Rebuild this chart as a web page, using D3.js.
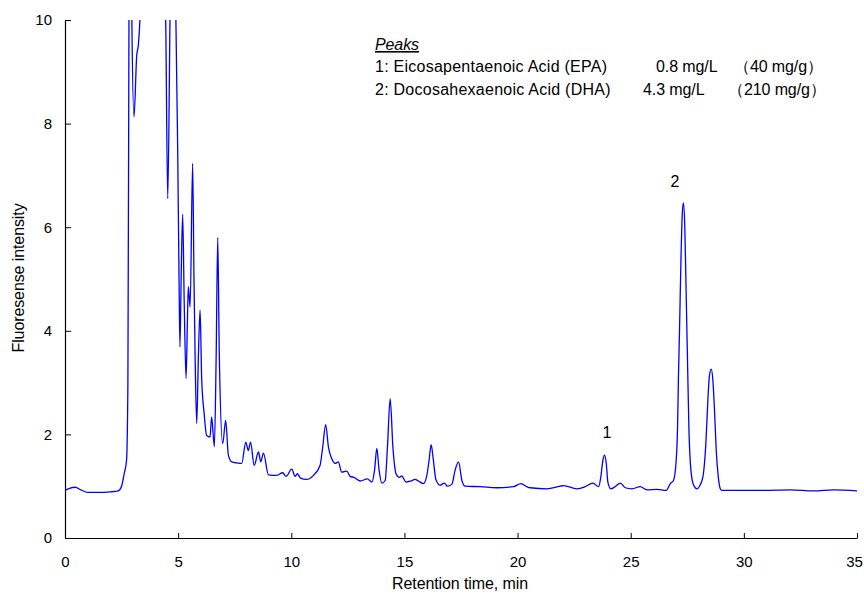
<!DOCTYPE html>
<html>
<head>
<meta charset="utf-8">
<script src="https://cdn.jsdelivr.net/npm/d3@7"></script>
<style>
  body { margin: 0; background: #fff; }
  text { font-family: Arial, "Liberation Sans", sans-serif; fill: #000; }
</style>
</head>
<body>
<div id="chart"></div>
<script>
var width = 864,
    height = 597,
    margin = {top: 20, right: 7, bottom: 59, left: 65};

// chromatogram trace (min, intensity)
var retention = [0.00, 0.20, 0.45, 0.70, 1.00, 1.50, 2.00, 2.35, 2.50, 2.62, 2.72, 2.78, 2.83, 2.90, 2.95,
    3.05, 3.17, 3.24, 3.32, 3.50, 4.00, 4.40, 4.45, 4.54, 4.64, 4.75, 4.88, 4.98, 5.04, 5.08,
    5.14, 5.20, 5.27, 5.35, 5.41, 5.45, 5.53, 5.64, 5.70, 5.75, 5.82, 5.90, 5.97, 6.04, 6.15,
    6.26, 6.41, 6.48, 6.60, 6.68, 6.75, 6.82, 6.97, 7.10, 7.22, 7.37, 7.59, 7.81, 7.99, 8.10,
    8.20, 8.36, 8.55, 8.65, 8.77, 8.99, 9.36, 9.62, 9.77, 10.02, 10.17, 10.27, 10.42, 10.68, 10.98,
    11.27, 11.39, 11.52, 11.64, 11.79, 11.94, 12.08, 12.23, 12.45, 12.60, 12.77, 13.04, 13.36, 13.56, 13.68,
    13.78, 13.88, 14.00, 14.15, 14.25, 14.37, 14.49, 14.63, 14.78, 14.88, 15.07, 15.28, 15.47, 15.62, 15.84,
    15.99, 16.09, 16.18, 16.28, 16.39, 16.58, 16.76, 16.90, 17.10, 17.24, 17.39, 17.54, 17.68, 18.35, 19.08,
    19.82, 20.15, 20.41, 20.56, 21.30, 21.88, 22.03, 22.62, 22.99, 23.33, 23.58, 23.68, 23.77, 23.84, 23.92,
    23.99, 24.12, 24.31, 24.54, 24.76, 25.05, 25.42, 25.72, 26.16, 26.57, 26.75, 26.89, 27.01, 27.07, 27.11,
    27.16, 27.22, 27.28, 27.33, 27.39, 27.45, 27.51, 27.57, 27.66, 27.78, 27.93, 28.04, 28.19, 28.32, 28.41,
    28.48, 28.56, 28.63, 28.71, 28.78, 28.87, 28.96, 29.03, 29.84, 30.87, 32.05, 33.08, 33.97, 35.00];

var intensity = [0.92, 0.96, 0.98, 0.93, 0.88, 0.88, 0.89, 0.91, 1.00, 1.25, 1.50, 3.00, 10.5, 14.0, 10.2,
    8.13, 9.32, 9.51, 10.1, 14.0, 16.0, 11.0, 10.0, 6.55, 10.0, 14.0, 10.6, 7.50, 5.00, 3.69,
    5.20, 6.25, 4.50, 3.08, 4.20, 4.85, 4.46, 7.23, 5.00, 3.50, 2.21, 3.60, 4.40, 3.08, 2.40,
    1.98, 1.95, 2.34, 1.76, 3.50, 5.80, 3.50, 1.82, 2.27, 1.60, 1.47, 1.45, 1.44, 1.85, 1.69,
    1.85, 1.40, 1.66, 1.47, 1.64, 1.22, 1.21, 1.26, 1.19, 1.33, 1.19, 1.24, 1.15, 1.13, 1.21,
    1.40, 1.76, 2.19, 1.76, 1.53, 1.44, 1.47, 1.27, 1.29, 1.19, 1.17, 1.10, 1.14, 1.08, 1.31,
    1.73, 1.31, 1.06, 1.11, 1.76, 2.69, 1.76, 1.24, 1.17, 1.20, 1.08, 1.10, 1.13, 1.10, 1.05,
    1.21, 1.50, 1.80, 1.50, 1.13, 1.02, 1.06, 1.00, 1.04, 1.31, 1.47, 1.11, 1.00, 0.99, 0.97,
    0.99, 1.05, 0.99, 0.97, 0.95, 1.00, 1.01, 0.95, 0.99, 1.06, 0.99, 1.18, 1.50, 1.60, 1.44,
    1.08, 0.95, 0.99, 1.06, 0.97, 0.95, 0.99, 0.93, 0.94, 0.92, 1.05, 1.11, 1.50, 2.14, 3.11,
    4.08, 5.36, 6.27, 6.47, 6.01, 4.72, 3.43, 2.14, 1.31, 1.02, 0.95, 1.00, 1.18, 1.82, 2.66,
    3.14, 3.26, 3.05, 2.40, 1.69, 1.18, 0.95, 0.92, 0.92, 0.92, 0.93, 0.91, 0.93, 0.91];

var xTicks = [0, 5, 10, 15, 20, 25, 30, 35],
    yTicks = [0, 2, 4, 6, 8, 10];

var peakNames = ["1", "2"],
    peakTimes = [23.95, 26.95],
    peakLevels = [2.05, 6.9];

var legendRows = ["1: Eicosapentaenoic Acid (EPA)", "2: Docosahexaenoic Acid (DHA)"],
    legendConc = ["0.8 mg/L", "4.3 mg/L"],
    legendContent = ["\uff0840 mg/g\uff09", "\uff08210 mg/g\uff09"];

var svg = d3.select("#chart").append("svg")
    .attr("width", width)
    .attr("height", height);

var x = d3.scaleLinear().domain([0, 35]).range([margin.left, width - margin.right]),
    y = d3.scaleLinear().domain([0, 10]).range([height - margin.bottom, margin.top]);

svg.append("clipPath").attr("id", "plot")
    .append("rect")
    .attr("x", x(0)).attr("y", y(10))
    .attr("width", x(35) - x(0)).attr("height", y(0) - y(10));

var trace = retention.map(function (t, i) { return [t, intensity[i]]; });

var line = d3.line()
    .x(function (d) { return x(d[0]); })
    .y(function (d) { return y(d[1]); })
    .curve(d3.curveMonotoneX);

svg.append("path")
    .datum(trace)
    .attr("clip-path", "url(#plot)")
    .attr("fill", "none")
    .attr("stroke", "#0000ff")
    .attr("stroke-width", 1.3)
    .attr("stroke-linejoin", "round")
    .attr("d", line);

// axes, ticks point inward
var xAxis = svg.append("g")
    .attr("transform", "translate(0," + y(0) + ")")
    .call(d3.axisBottom(x).tickValues(xTicks).tickSizeInner(-5).tickSizeOuter(0).tickPadding(18));

var yAxis = svg.append("g")
    .attr("transform", "translate(" + x(0) + ",0)")
    .call(d3.axisLeft(y).tickValues(yTicks).tickSizeInner(-6).tickSizeOuter(0).tickPadding(13));

[xAxis, yAxis].forEach(function (a) {
    a.select(".domain").attr("stroke", "#000").attr("stroke-width", 1.2);
    a.selectAll(".tick line").attr("stroke", "#000");
    a.selectAll(".tick text")
        .style("font-family", "Arial, 'Liberation Sans', sans-serif")
        .style("font-size", "15px")
        .attr("fill", "#000");
});
// last x label sits at the page edge
xAxis.selectAll(".tick text").filter(function (d) { return d === 35; }).attr("dx", -3);

svg.append("text")
    .attr("x", 460)
    .attr("y", 589)
    .attr("text-anchor", "middle")
    .style("font-size", "16px")
    .style("letter-spacing", "-0.1px")
    .text("Retention time, min");

svg.append("text")
    .attr("transform", "translate(24," + 278 + ") rotate(-90)")
    .attr("text-anchor", "middle")
    .style("font-size", "16px")
    .style("letter-spacing", "-0.1px")
    .text("Fluoresense intensity");

// peak numbers
svg.selectAll(".peak")
    .data(peakNames)
    .enter().append("text")
    .attr("class", "peak")
    .attr("x", function (d, i) { return x(peakTimes[i]); })
    .attr("y", function (d, i) { return y(peakLevels[i]) + 6; })
    .attr("text-anchor", "middle")
    .style("font-size", "16px")
    .text(function (d) { return d; });

// legend block
var legend = svg.append("g").style("font-size", "16px").style("letter-spacing", "-0.1px");

legend.append("text")
    .attr("x", 375).attr("y", 50)
    .style("font-style", "italic")
    .style("text-decoration", "underline")
    .text("Peaks");

legendRows.forEach(function (r, i) {
    var yy = 72 + i * 23;
    legend.append("text").attr("x", 375).attr("y", yy)
        .style("letter-spacing", "0.25px").text(r);
    legend.append("text").attr("x", i ? 643 : 656).attr("y", yy).text(legendConc[i]);
    legend.append("text").attr("x", i ? 728 : 734).attr("y", yy).text(legendContent[i]);
});
</script>
</body>
</html>
